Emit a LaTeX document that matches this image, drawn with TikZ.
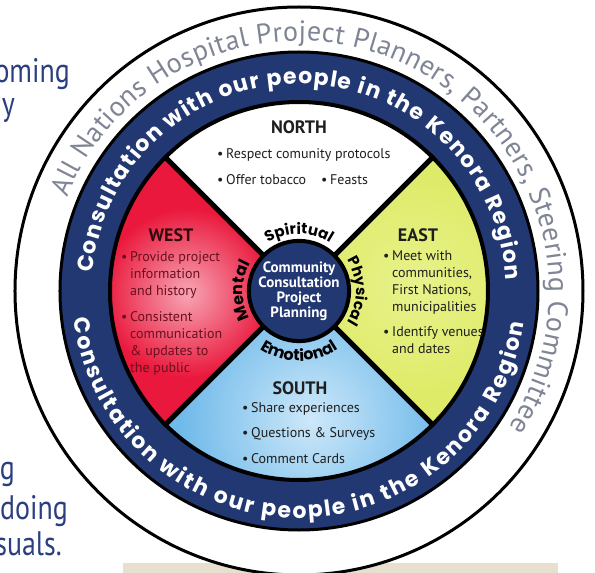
\documentclass[tikz,border=0pt]{standalone}
\usepackage{fontspec}
\setmainfont{PT Sans}
\newfontfamily\ringfont{Poppins}
\newfontfamily\outerfont{PT Sans}
\usetikzlibrary{decorations.text}
\definecolor{navy}{RGB}{34,56,114}
\definecolor{wred}{RGB}{234,24,60}
\definecolor{wpink}{RGB}{247,165,180}
\definecolor{eyel}{RGB}{222,235,104}
\definecolor{eyellight}{RGB}{232,242,140}
\definecolor{sblue}{RGB}{112,186,234}
\definecolor{slight}{RGB}{205,232,249}
\definecolor{ringgrey}{RGB}{128,133,150}
\definecolor{maroon}{RGB}{105,16,30}
\definecolor{westhead}{RGB}{50,8,14}
\definecolor{bodytext}{RGB}{30,30,30}
\definecolor{pagetext}{RGB}{42,62,128}
\definecolor{beige}{RGB}{232,224,206}
\newcommand\bul{\makebox[9pt][l]{\textbullet}}
\newcommand\ind{\hspace*{9pt}}
\begin{document}
\begin{tikzpicture}[x=1pt,y=1pt,
  body/.style={font=\fontsize{14}{17}\selectfont, inner sep=0pt, text=bodytext},
  head/.style={font=\bfseries\fontsize{18}{18}\selectfont, inner sep=0pt, text=bodytext},
  frag/.style={font=\fontsize{34}{34}\selectfont, text=pagetext, inner sep=0pt, anchor=base east},
  divider/.style={line width=5pt, line cap=butt},
  ringline/.style={line width=3pt, draw=black}]
\useasboundingbox (-299,-282) rectangle (296,291);
% background page fragments
\fill[beige] (-176,-272) rectangle (259,-290);
\node[frag] (f1) at (-229,208) {\scalebox{0.82}[1]{oming}};
\node[frag] (f2) at (-284,175) {\scalebox{0.82}[1]{y}};
\node[frag] (f3) at (-284,-188) {\scalebox{0.82}[1]{g}};
\node[frag] (f4) at (-231,-228) {\scalebox{0.82}[1]{doing}};
\node[frag] (f5) at (-237,-264) {\scalebox{0.82}[1]{suals.}};
% rings
\draw[ringline, fill=white] (0,0) circle[radius=284];
\fill[navy] (0,0) circle[radius=239];
\draw[ringline] (0,0) circle[radius=239];
\fill[white] (0,0) circle[radius=189];
% west sector
\begin{scope}
\clip (135:47) -- (135:189) arc[start angle=135, end angle=225, radius=189] -- (225:47) arc[start angle=225, end angle=135, radius=47] -- cycle;
\fill[wred] (-200,-200) rectangle (0,200);
\shade[inner color=wpink, outer color=wred] (-112,-2) circle[radius=85];
\end{scope}
% east sector
\begin{scope}
\clip (-45:47) -- (-45:189) arc[start angle=-45, end angle=45, radius=189] -- (45:47) arc[start angle=45, end angle=-45, radius=47] -- cycle;
\fill[eyel] (0,-200) rectangle (200,200);
\shade[inner color=eyellight, outer color=eyel] (115,5) circle[radius=110];
\end{scope}
% south sector
\begin{scope}
\clip (225:47) -- (225:189) arc[start angle=225, end angle=315, radius=189] -- (315:47) arc[start angle=315, end angle=225, radius=47] -- cycle;
\fill[sblue] (-200,-200) rectangle (200,0);
\shade[inner color=slight, outer color=sblue] (12,-128) circle[radius=130];
\end{scope}
% dividers
\foreach \a in {45,135,225,315} \draw[divider] (\a:46) -- (\a:191);
\draw[line width=4pt] (0,0) circle[radius=189];
% hub
\node[circle, draw=black, line width=4pt, fill=navy, minimum size=94pt, inner sep=0pt,
      text=white, align=center, font=\bfseries\fontsize{15}{15}\selectfont] (hub) at (0,0)
      {Community\\Consultation\\Project\\Planning};
% outer ring text
\path[decorate, decoration={text along path, text align={fit to path},
  text={|\outerfont\fontsize{28}{28}\selectfont\color{ringgrey}|All Nations Hospital Project Planners, Partners, Steering Committee}}]
  (158:250) arc[start angle=158, end angle=-33, radius=250];
% navy ring text
\path[decorate, decoration={text along path, text align={fit to path},
  text={|\ringfont\bfseries\fontsize{22}{22}\selectfont\color{white}|Consultation with our people in the Kenora Region}}]
  (175:207) arc[start angle=175, end angle=3, radius=207];
\path[decorate, decoration={text along path, text align={fit to path},
  text={|\ringfont\bfseries\fontsize{22}{22}\selectfont\color{white}|Consultation with our people in the Kenora Region}}]
  (187:227) arc[start angle=187, end angle=352, radius=227];
% inner labels
\path[decorate, decoration={text along path, text align=center,
  text={|\ringfont\bfseries\fontsize{15}{15}\selectfont|Spiritual}}]
  (140:57) arc[start angle=140, end angle=40, radius=57];
\path[decorate, decoration={text along path, text align=center,
  text={|\ringfont\bfseries\fontsize{15}{15}\selectfont|Physical}}]
  (50:57) arc[start angle=50, end angle=-50, radius=57];
\path[decorate, decoration={text along path, text align=center,
  text={|\ringfont\bfseries\fontsize{16}{16}\selectfont|Mental}}]
  (230:56) arc[start angle=230, end angle=130, radius=56];
\path[decorate, decoration={text along path, text align=center,
  text={|\ringfont\bfseries\fontsize{16}{16}\selectfont|Emotional}}]
  (215:70) arc[start angle=215, end angle=325, radius=70];
% north
\node[head] (north) at (0,164) {NORTH};
\node[body, anchor=west] (n1) at (-82,136) {\bul Respect comunity protocols};
\node[body, anchor=west] (n2) at (-82,111) {\bul Offer tobacco};
\node[body, anchor=west] (n3) at (22,111) {\bul Feasts};
% west
\node[head, text=westhead] (west) at (-128,56) {WEST};
\node[body, text=maroon, align=left, anchor=north west] (wtext) at (-178,40)
  {\bul Provide project\\\ind information\\\ind and history\\[9pt]\bul Consistent\\\ind communication\\\ind \& updates to\\\ind the public};
% east
\node[head] (east) at (119,56) {EAST};
\node[body, align=left, anchor=north west] (etext) at (84,41)
  {\bul Meet with\\\ind communities,\\\ind First Nations,\\\ind municipalities\\[8pt]\bul Identify venues\\\ind and dates};
% south
\node[head] (south) at (1,-97) {SOUTH};
\node[body, anchor=west] (s1) at (-57,-118) {\bul Share experiences};
\node[body, anchor=west] (s2) at (-57,-143) {\bul Questions \& Surveys};
\node[body, anchor=west] (s3) at (-57,-168) {\bul Comment Cards};
\end{tikzpicture}
\end{document}
